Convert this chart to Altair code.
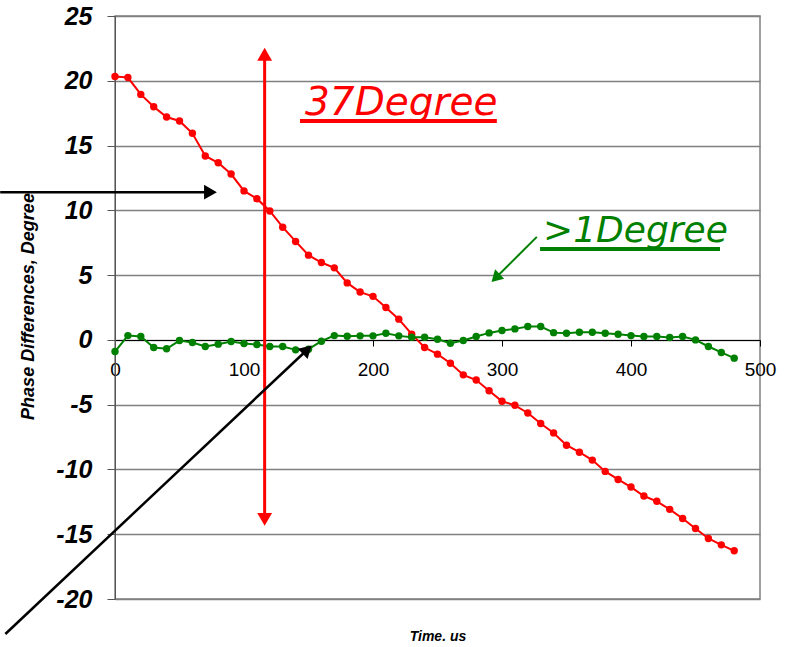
import altair as alt
import pandas as pd

# ---- data ----
time_us = list(range(0, 490, 10))
red_series = [20.33, 20.25, 18.95, 18.0, 17.2, 16.9, 15.95, 14.2, 13.67, 12.8,
              11.5, 10.9, 9.95, 8.7, 7.6, 6.54, 5.97, 5.56, 4.4, 3.69,
              3.36, 2.5, 1.6, 0.44, -0.59, -1.1, -1.8, -2.7, -3.1, -3.92,
              -4.74, -5.05, -5.64, -6.46, -7.18, -8.13, -8.67, -9.28, -10.15, -10.77,
              -11.36, -12.05, -12.46, -13.08, -13.79, -14.56, -15.33, -15.82, -16.28]
green_series = [-0.9, 0.33, 0.26, -0.59, -0.69, -0.05, -0.2, -0.51, -0.33, -0.13,
                -0.28, -0.36, -0.51, -0.51, -0.77, -0.72, -0.1, 0.33, 0.28, 0.31,
                0.31, 0.51, 0.31, 0.2, 0.2, 0.05, -0.26, -0.05, 0.26, 0.54,
                0.72, 0.85, 1.03, 1.03, 0.56, 0.51, 0.59, 0.59, 0.51, 0.44,
                0.33, 0.26, 0.26, 0.18, 0.26, 0.0, -0.51, -0.97, -1.41]
series_names = ["red", "green"]
series_colors = ["#FF0000", "#008000"]

x_ticks = [0, 100, 200, 300, 400, 500]
y_ticks = [-20, -15, -10, -5, 0, 5, 10, 15, 20, 25]

# annotation arrows (data units)
arrow_x1 = [116, -89, -85, 327]
arrow_y1 = [22.0, 11.4, -22.7, 7.95]
arrow_x2 = [116, 74, 149, 295]
arrow_y2 = [-13.8, 11.4, -0.76, 4.78]
arrow_col = ["#FF0000", "#000000", "#000000", "#008000"]
arrow_w = [3, 2.5, 2.5, 2]

head_x = [116, 116, 74, 149, 295]
head_y = [22.05, -13.85, 11.4, -0.76, 4.78]
head_angle = [0, 180, 90, 47, 226]
head_col = ["#FF0000", "#FF0000", "#000000", "#000000", "#008000"]
head_size = [220, 220, 220, 200, 170]

label_text = ["37Degree", ">1Degree"]
label_x = [147.3, 331.8]
label_y = [17.36, 7.56]
label_col = ["#FF0000", "#008000"]
label_size = [39, 36]

under_x1 = [143.4, 329.5]
under_x2 = [296, 469]
under_y = [16.9, 7.02]

# ---- tables ----
df = pd.DataFrame({
    "t": time_us * 2,
    "v": red_series + green_series,
    "s": ["red"] * len(time_us) + ["green"] * len(time_us),
})
arrows = pd.DataFrame({"x1": arrow_x1, "y1": arrow_y1, "x2": arrow_x2, "y2": arrow_y2,
                       "c": arrow_col, "w": arrow_w})
heads = pd.DataFrame({"x": head_x, "y": head_y, "a": head_angle, "c": head_col, "sz": head_size})
labels = pd.DataFrame({"x": label_x, "y": label_y, "txt": label_text, "c": label_col, "fs": label_size})
unders = pd.DataFrame({"x1": under_x1, "x2": under_x2, "y": under_y, "c": label_col})

xs = alt.Scale(domain=[0, 500], nice=False, zero=False)
ys = alt.Scale(domain=[-20, 25], nice=False, zero=False)

x_axis = alt.Axis(values=x_ticks, grid=False, offset=-259, tickSize=6, labelPadding=14,
                  labelFont="Liberation Sans", labelFontSize=19, labelColor="#000",
                  domainColor="#000", tickColor="#000", labelFlush=False,
                  title="Time. us", titleFont="Liberation Sans", titleFontSize=14,
                  titleFontWeight="bold", titleFontStyle="italic", titleColor="#000",
                  titleY=300, titleBaseline="alphabetic")
y_axis = alt.Axis(values=y_ticks, grid=True, gridColor="#808080", gridWidth=1.5,
                  tickSize=8, labelPadding=15, tickColor="#555", domainColor="#555",
                  labelFont="Liberation Sans", labelFontSize=25, labelFontWeight="bold",
                  labelFontStyle="italic", labelColor="#000",
                  labelExpr="replace(datum.label, '\u2212', '-')",
                  title="Phase Differences, Degree", titleFont="Liberation Sans",
                  titleFontSize=18, titleFontWeight="bold", titleFontStyle="italic",
                  titleColor="#000", titleX=-78, titleY=290)

color = alt.Color("s:N", scale=alt.Scale(domain=series_names, range=series_colors), legend=None)

lines = alt.Chart(df).mark_line(strokeWidth=2).encode(
    x=alt.X("t:Q", scale=xs, axis=x_axis),
    y=alt.Y("v:Q", scale=ys, axis=y_axis),
    color=color,
)
pts = alt.Chart(df).mark_circle(size=55, opacity=1).encode(
    x=alt.X("t:Q", scale=xs),
    y=alt.Y("v:Q", scale=ys),
    color=color,
)

arrow_lines = alt.Chart(arrows).mark_rule().encode(
    x=alt.X("x1:Q", scale=xs), y=alt.Y("y1:Q", scale=ys),
    x2="x2:Q", y2="y2:Q",
    color=alt.Color("c:N", scale=None),
    strokeWidth=alt.StrokeWidth("w:Q", scale=None),
)
arrow_heads = alt.Chart(heads).mark_point(shape="triangle-up", filled=True, opacity=1).encode(
    x=alt.X("x:Q", scale=xs), y=alt.Y("y:Q", scale=ys),
    angle=alt.Angle("a:Q", scale=None),
    color=alt.Color("c:N", scale=None),
    size=alt.Size("sz:Q", scale=None),
)
texts = alt.Chart(labels).mark_text(align="left", baseline="alphabetic", font="DejaVu Sans",
                                    fontStyle="italic").encode(
    x=alt.X("x:Q", scale=xs), y=alt.Y("y:Q", scale=ys),
    text="txt:N",
    color=alt.Color("c:N", scale=None),
    size=alt.Size("fs:Q", scale=None),
)
underlines = alt.Chart(unders).mark_rule(strokeWidth=4).encode(
    x=alt.X("x1:Q", scale=xs), x2="x2:Q", y=alt.Y("y:Q", scale=ys),
    color=alt.Color("c:N", scale=None),
)

chart = alt.layer(lines, pts, arrow_lines, arrow_heads, texts, underlines).resolve_scale(
    color="independent"
).properties(
    width=645, height=583,
    autosize=alt.AutoSizeParams(type="none"),
    padding={"left": 115, "top": 16, "right": 27, "bottom": 48},
    background="white",
).configure_view(stroke="#808080", strokeWidth=1.5)

chart.save("out.html", embed_options={"renderer": "svg", "actions": False})
